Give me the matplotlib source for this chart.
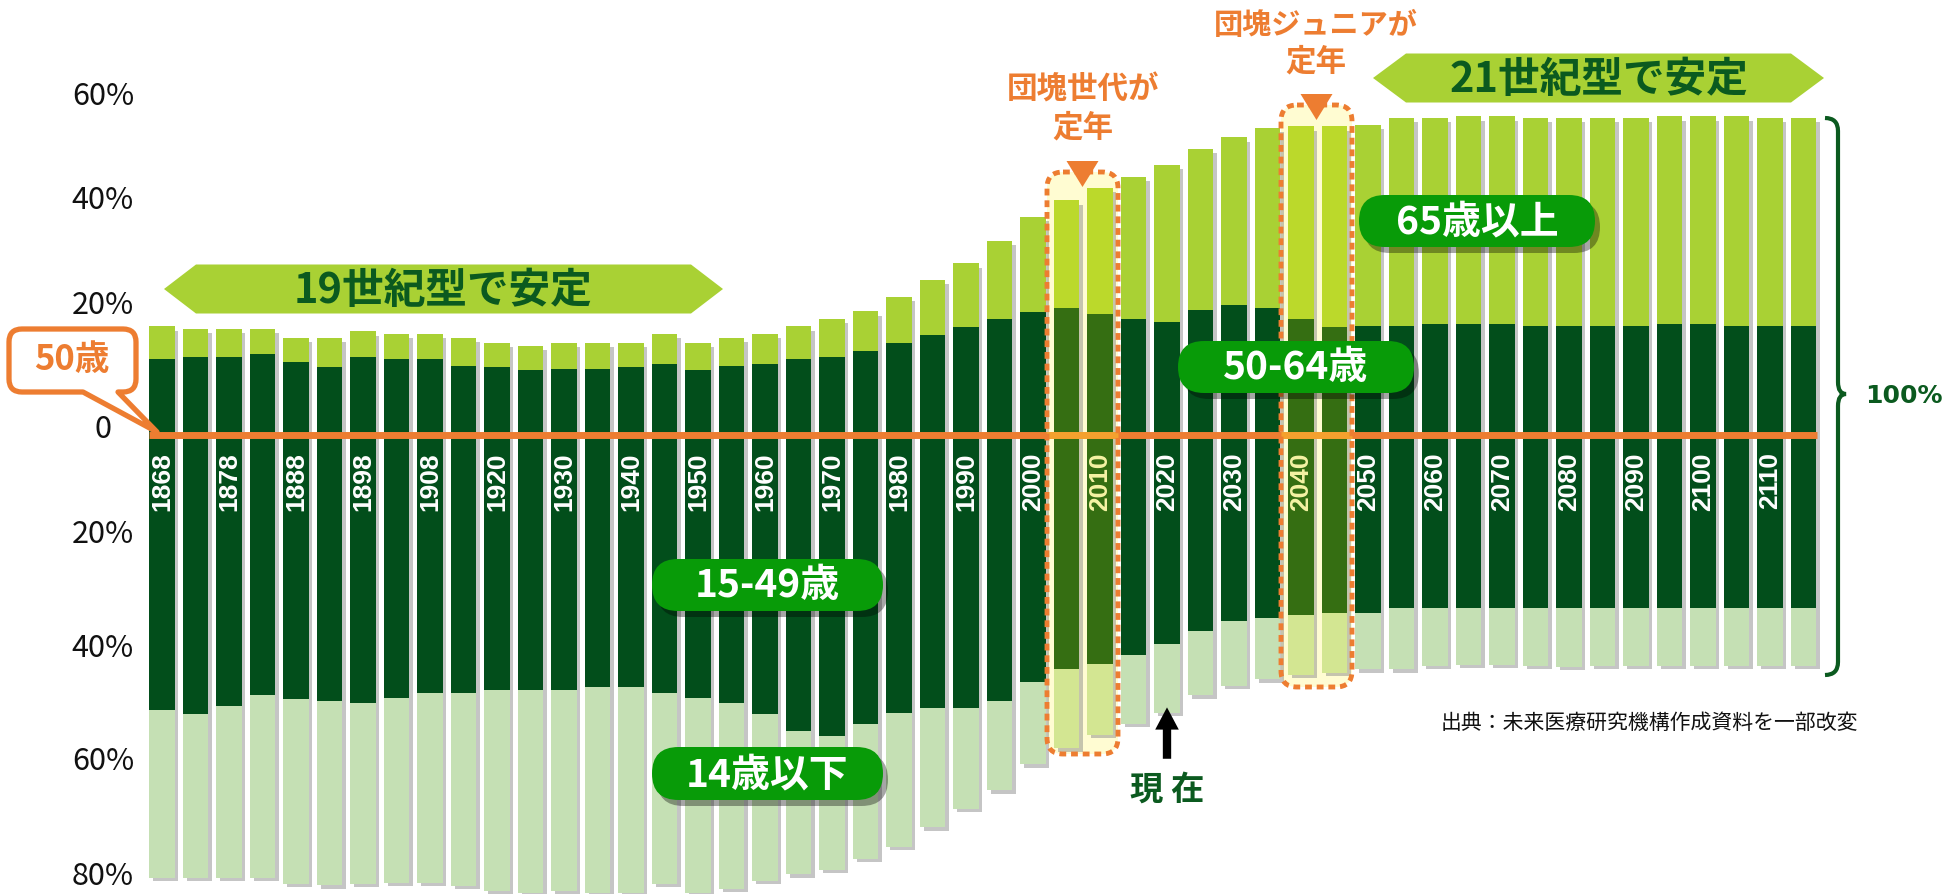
import matplotlib.pyplot as plt
import matplotlib.transforms as mtransforms
from matplotlib.patches import FancyBboxPatch, Polygon, PathPatch
from matplotlib.path import Path
import numpy as np

plt.rcParams['font.family'] = ['Noto Sans CJK JP', 'DejaVu Sans']

# every other bar carries a year label
year_labels = ['1868', '', '1878', '', '1888', '', '1898', '', '1908', '',
               '1920', '', '1930', '', '1940', '', '1950', '', '1960', '',
               '1970', '', '1980', '', '1990', '', '2000', '', '2010', '',
               '2020', '', '2030', '', '2040', '', '2050', '', '2060', '',
               '2070', '', '2080', '', '2090', '', '2100', '', '2110', '']

# population share (%) above the 50-year line
age_65_over = [5.9, 5.1, 5.1, 4.5, 4.4, 5.3, 4.7, 4.5, 4.5, 5.1,
               4.4, 4.3, 4.7, 4.7, 4.4, 5.4, 4.9, 5.1, 5.4, 5.9,
               6.9, 7.2, 8.3, 10.0, 11.5, 14.1, 17.2, 19.5, 22.8, 25.7,
               28.4, 29.2, 30.4, 32.6, 34.9, 36.3, 36.4, 37.7, 37.3, 37.6,
               37.6, 37.7, 37.7, 37.7, 37.7, 37.6, 37.6, 38.0, 37.7, 37.7]
age_50_64 = [13.8, 14.1, 14.1, 14.7, 13.2, 12.3, 14.1, 13.8, 13.8, 12.5,
             12.3, 11.8, 12.0, 12.0, 12.3, 12.9, 11.8, 12.5, 12.9, 13.8,
             14.1, 15.2, 16.7, 18.1, 19.6, 21.0, 22.3, 23.0, 21.9, 21.0,
             20.5, 22.6, 23.5, 23.0, 21.0, 19.6, 19.7, 19.7, 20.1, 20.1,
             20.1, 19.7, 19.7, 19.7, 19.7, 20.1, 20.1, 19.7, 19.7, 19.7]
# below the 50-year line
age_15_49 = [49.7, 50.5, 49.0, 47.1, 47.7, 48.1, 48.5, 47.6, 46.7, 46.7,
             46.2, 46.2, 46.2, 45.6, 45.6, 46.7, 47.6, 48.5, 50.5, 53.6,
             54.4, 52.3, 50.3, 49.4, 49.4, 48.1, 44.7, 42.4, 41.5, 39.8,
             37.8, 35.5, 33.7, 33.1, 32.6, 32.2, 32.2, 31.3, 31.3, 31.3,
             31.3, 31.3, 31.3, 31.3, 31.3, 31.3, 31.3, 31.3, 31.3, 31.3]
age_0_14 = [30.4, 29.6, 31.2, 33.0, 33.6, 33.4, 32.8, 33.4, 34.3, 34.9,
            36.4, 36.7, 36.4, 37.3, 37.3, 34.6, 35.3, 33.7, 30.2, 25.9,
            24.3, 24.4, 24.3, 21.6, 18.3, 16.2, 14.9, 14.3, 12.8, 12.5,
            12.5, 11.6, 11.7, 11.1, 10.8, 10.9, 10.2, 11.1, 10.5, 10.3,
            10.3, 10.5, 10.7, 10.5, 10.5, 10.5, 10.5, 10.5, 10.5, 10.5]

ytick_text = ['60%', '40%', '20%', '0', '20%', '40%', '60%', '80%']

# highlighted pairs of bars
boomer_bars = [27, 28]
junior_bars = [34, 35]
now_year = '2020'

# colours
C_OLD, C_OLD_HI = '#A9D134', '#BBD92B'
C_DARK, C_DARK_HI = '#024E1B', '#356E12'
C_KID, C_KID_HI = '#C5E0B4', '#D3E692'
ORANGE = '#ED7D31'
PILL = '#089B08'
TXT_GREEN = '#0B5A1F'

# canvas layout (pixels)
W, H = 1949, 895
X0, PITCH = 162, 33.5
Y0, PPP = 436, 5.525

fig = plt.figure(figsize=(W / 100, H / 100), dpi=100)
ax = fig.add_axes([0, 0, 1, 1])
ax.set_xlim(-X0 / PITCH, (W - X0) / PITCH)
ax.set_ylim(-(H - Y0) / PPP, Y0 / PPP)
ax.axis('off')

# pixel coordinates, origin top-left
T = mtransforms.Affine2D().scale(1 / W, -1 / H).translate(0, 1) + fig.transFigure

n = len(year_labels)
x = np.arange(n)
old = np.array(age_65_over)
mid = np.array(age_50_64)
work = np.array(age_15_49)
kid = np.array(age_0_14)
hi = set(boomer_bars + junior_bars)

c_old = [C_OLD_HI if i in hi else C_OLD for i in range(n)]
c_dark = [C_DARK_HI if i in hi else C_DARK for i in range(n)]
c_kid = [C_KID_HI if i in hi else C_KID for i in range(n)]

bw = 0.75
# drop shadows
ax.bar(x + 0.11, old + mid + work + kid - 0.2, bottom=-(work + kid) - 0.6, width=bw,
       color='#808080', alpha=0.45, zorder=2, linewidth=0)
ax.bar(x, mid, width=bw, color=c_dark, zorder=3, linewidth=0)
ax.bar(x, old, bottom=mid, width=bw, color=c_old, zorder=3, linewidth=0)
ax.bar(x, -work, width=bw, color=c_dark, zorder=3, linewidth=0)
ax.bar(x, -kid, bottom=-work, width=bw, color=c_kid, zorder=3, linewidth=0)

# 50-year line
ax.hlines(0, -0.4, n - 0.6, color=ORANGE, lw=5, zorder=5)
for grp in (boomer_bars, junior_bars):
    ax.hlines(0, grp[0] - 0.6, grp[-1] + 0.53, color='#F4A12E', lw=5, zorder=5)

# highlight boxes
box_px = [(1047, 173, 1118, 755), (1281, 106, 1352, 688)]
for (bx0, by0, bx1, by1) in box_px:
    fill = FancyBboxPatch((bx0, by0), bx1 - bx0, by1 - by0,
                          boxstyle='round,pad=0,rounding_size=16', transform=T,
                          fc='#FFFCD2', ec='none', zorder=1)
    ax.add_patch(fill)
    edge = FancyBboxPatch((bx0, by0), bx1 - bx0, by1 - by0,
                          boxstyle='round,pad=0,rounding_size=16', transform=T,
                          fc='none', ec=ORANGE, lw=3.5, linestyle=(0, (1.4, 1.0)),
                          capstyle='butt', zorder=6)
    ax.add_patch(edge)
    cx = (bx0 + bx1) / 2
    ax.add_patch(Polygon([(cx - 16, by0 - 11), (cx + 16, by0 - 11), (cx, by0 + 15)],
                         closed=True, transform=T, fc=ORANGE, ec='none', zorder=7))

# year labels inside the bars
for i, yl in enumerate(year_labels):
    if yl:
        ax.text(i, -2.9, yl, rotation=90, ha='center', va='top', fontsize=19,
                fontweight='bold', family='Liberation Sans',
                color='#F6F3A4' if i in hi else 'white', zorder=6)

# y labels, placed where the original artwork has them
label_pos = [61.4, 42.7, 23.7, 1.1, -17.9, -38.5, -59.0, -79.8]
yt = mtransforms.blended_transform_factory(T, ax.transData)
for v, s in zip(label_pos, ytick_text):
    ax.text(103, v, s, transform=yt, ha='center', va='center', fontsize=22, color='#111111')

# banners
def banner(x0, x1, yc, half, head, label):
    pts = [(x0, yc), (x0 + head, yc - half), (x1 - head, yc - half),
           (x1, yc), (x1 - head, yc + half), (x0 + head, yc + half)]
    ax.add_patch(Polygon(pts, closed=True, transform=T, fc=C_OLD, ec='none', zorder=6))
    ax.text((x0 + x1) / 2, yc + 1, label, transform=T, ha='center', va='center',
            fontsize=30, fontweight='bold', color=TXT_GREEN, zorder=7)

banner(164, 723, 290, 24.5, 32, '19世紀型で安定')
banner(1373, 1824, 79, 24.5, 33, '21世紀型で安定')

# green pills
def pill(x0, y0, x1, y1, label):
    h = y1 - y0
    style = f'round,pad=0,rounding_size={h / 2}'
    ax.add_patch(FancyBboxPatch((x0 + 5, y0 + 6), x1 - x0, h, boxstyle=style, transform=T,
                                fc='black', ec='none', alpha=0.35, zorder=8))
    ax.add_patch(FancyBboxPatch((x0, y0), x1 - x0, h, boxstyle=style, transform=T,
                                fc=PILL, ec='none', zorder=9))
    ax.text((x0 + x1) / 2, (y0 + y1) / 2, label, transform=T, ha='center', va='center',
            fontsize=28, fontweight='bold', color='white', zorder=10)

pill(652, 560, 883, 612, '15-49歳')
pill(652, 748, 883, 801, '14歳以下')
pill(1178, 342, 1414, 394, '50-64歳')
pill(1359, 196, 1595, 248, '65歳以上')

# orange annotations
ax.text(1083, 90, '団塊世代が', transform=T, ha='center', va='center',
        fontsize=22, fontweight='bold', color=ORANGE)
ax.text(1083, 128, '定年', transform=T, ha='center', va='center',
        fontsize=22, fontweight='bold', color=ORANGE)
ax.text(1316, 25, '団塊ジュニアが', transform=T, ha='center', va='center',
        fontsize=21, fontweight='bold', color=ORANGE)
ax.text(1316, 62, '定年', transform=T, ha='center', va='center',
        fontsize=22, fontweight='bold', color=ORANGE)

# 50歳 callout
bx0, by0, bx1, by1, r = 9, 330, 136, 393, 13
verts = [(bx0 + r, by0), (bx1 - r, by0), (bx1, by0), (bx1, by0 + r),
         (bx1, by1 - r), (bx1, by1), (bx1 - r, by1),
         (118, by1), (157, 433), (83, by1),
         (bx0 + r, by1), (bx0, by1), (bx0, by1 - r),
         (bx0, by0 + r), (bx0, by0), (bx0 + r, by0), (bx0 + r, by0)]
codes = [Path.MOVETO, Path.LINETO, Path.CURVE3, Path.CURVE3,
         Path.LINETO, Path.CURVE3, Path.CURVE3,
         Path.LINETO, Path.LINETO, Path.LINETO,
         Path.LINETO, Path.CURVE3, Path.CURVE3,
         Path.LINETO, Path.CURVE3, Path.CURVE3, Path.CLOSEPOLY]
ax.add_patch(PathPatch(Path(verts, codes), transform=T, fc='white', ec=ORANGE,
                       lw=3.8, joinstyle='round', zorder=7))
ax.text(72, 360, '50歳', transform=T, ha='center', va='center', fontsize=25,
        fontweight='bold', color=ORANGE, zorder=8)

# "now" arrow under 2020
i_now = year_labels.index(now_year)
b_now = -(work[i_now] + kid[i_now])
ax.annotate('', xy=(i_now, b_now + 1.0), xytext=(i_now, b_now - 8.3),
            arrowprops=dict(facecolor='black', edgecolor='none', width=6,
                            headwidth=17, headlength=16, shrink=0), zorder=8)
ax.text(i_now, b_now - 13.8, '現 在', ha='center', va='center', fontsize=24,
        fontweight='bold', color=TXT_GREEN)

# 100% brace
bv = [(1825, 119), (1838, 119), (1838, 132), (1838, 383), (1838, 395), (1846, 395),
      (1838, 395), (1838, 407), (1838, 663), (1838, 676), (1825, 676)]
bc = [Path.MOVETO, Path.CURVE3, Path.CURVE3, Path.LINETO, Path.CURVE3, Path.CURVE3,
      Path.CURVE3, Path.CURVE3, Path.LINETO, Path.CURVE3, Path.CURVE3]
ax.add_patch(PathPatch(Path(bv, bc), transform=T, fc='none', ec=TXT_GREEN, lw=3, zorder=5))
ax.text(1904, 396, '100%', transform=T, ha='center', va='center', fontsize=18,
        fontweight='bold', family='DejaVu Sans', color=TXT_GREEN)

ax.text(1441, 723, '出典：未来医療研究機構作成資料を一部改変', transform=T,
        ha='left', va='center', fontsize=15, color='#111111')

fig.savefig('out.png', dpi=100)
